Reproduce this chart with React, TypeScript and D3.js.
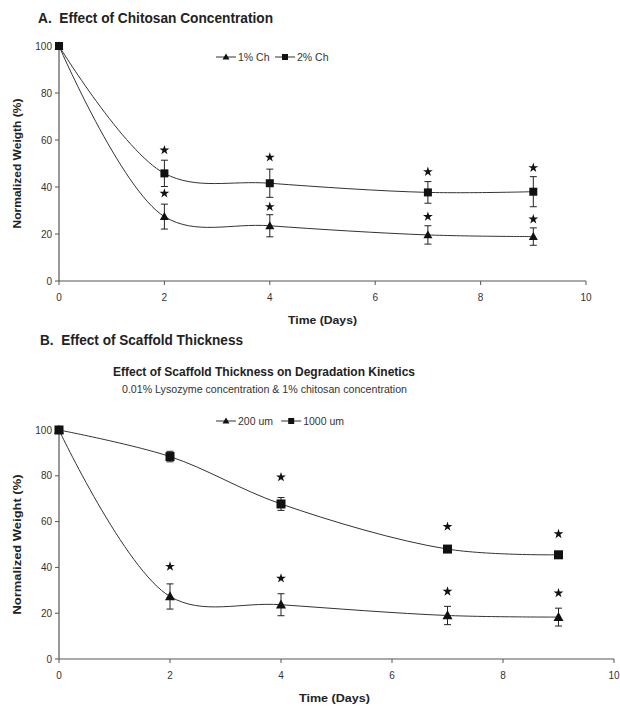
import React from "react";
import * as d3 from "d3";

// ---------- Data ----------
const days = [0, 2, 4, 7, 9];

// Panel A
const aCh1 = [100, 27.4, 23.5, 19.6, 18.9];
const aCh1Err = [0, 5.3, 4.7, 3.9, 3.7];
const aCh1Star = [null, 37.3, 31.6, 27.4, 26.3];
const aCh2 = [100, 45.8, 41.6, 37.7, 38.0];
const aCh2Err = [0, 5.6, 6.0, 4.6, 6.4];
const aCh2Star = [null, 55.7, 52.6, 46.5, 48.2];

// Panel B
const b200 = [100, 27.3, 23.7, 19.0, 18.3];
const b200Err = [0, 5.5, 4.8, 4.0, 3.9];
const b200Star = [null, 40.4, 35.2, 29.5, 28.8];
const b1000 = [100, 88.4, 67.7, 48.0, 45.5];
const b1000Err = [0, 2.3, 2.8, 1.5, 1.0];
const b1000Star = [null, null, 79.4, 57.8, 54.6];

const yTicks = [0, 20, 40, 60, 80, 100];
const xTicks = [0, 2, 4, 6, 8, 10];

const FONT = "'Liberation Sans', Arial, Helvetica, sans-serif";
const INK = "#333";
const AXIS = "#555";

type Series = {
  name: string;
  values: number[];
  err: number[];
  stars: (number | null)[];
  marker: "tri" | "sq";
};

function Marker({ kind, x, y, s }: { kind: "tri" | "sq"; x: number; y: number; s: number }) {
  if (kind === "sq") {
    return <rect x={x - s / 2} y={y - s / 2} width={s} height={s} fill="#111" />;
  }
  const h = s * 0.95;
  return (
    <path
      d={`M${x},${y - h * 0.6} L${x + s / 2 + 0.5},${y + h * 0.45} L${x - s / 2 - 0.5},${y + h * 0.45} Z`}
      fill="#111"
    />
  );
}

function Star({ x, y }: { x: number; y: number }) {
  const p = d3.symbol().type(d3.symbolStar).size(30)();
  return <path d={p || ""} transform={`translate(${x},${y})`} fill="#111" />;
}

function Panel({
  left,
  right,
  top,
  bottom,
  series,
  yLabel,
  yLabelLen,
  xLabelX,
  xLabelY,
  xLabelLen,
  legendX,
  legendY,
  msize,
}: {
  left: number;
  right: number;
  top: number;
  bottom: number;
  series: Series[];
  yLabel: string;
  yLabelLen: number;
  xLabelX: number;
  xLabelY: number;
  xLabelLen: number;
  legendX: number;
  legendY: number;
  msize: number;
}) {
  const x = d3.scaleLinear().domain([0, 10]).range([left, right]);
  const y = d3.scaleLinear().domain([0, 100]).range([bottom, top]);
  const line = d3
    .line<number>()
    .x((_, i) => x(days[i]))
    .y((d) => y(d))
    .curve(d3.curveCatmullRom.alpha(0.5));

  let lx = legendX;
  const legendItems: React.ReactNode[] = [];
  series.forEach((s, k) => {
    const x0 = lx;
    legendItems.push(
      <g key={k}>
        <line x1={x0} x2={x0 + 20} y1={legendY} y2={legendY} stroke={INK} strokeWidth={1} />
        <Marker kind={s.marker} x={x0 + 10} y={legendY} s={6} />
        <text x={x0 + 22} y={legendY + 3.5} fontSize={10.5} fill={INK} fontFamily={FONT}>
          {s.name}
        </text>
      </g>
    );
    lx += 22 + s.name.length * 6.2 + 6;
  });

  return (
    <g>
      {/* axes */}
      <line x1={left} x2={left} y1={y(100)} y2={bottom} stroke={AXIS} strokeWidth={1.2} />
      <line x1={left} x2={right} y1={bottom} y2={bottom} stroke={AXIS} strokeWidth={1.2} />
      {yTicks.map((t) => (
        <g key={"y" + t}>
          <line x1={left - 4} x2={left} y1={y(t)} y2={y(t)} stroke={AXIS} />
          <text
            x={left - 7}
            y={y(t) + 3.5}
            textAnchor="end"
            fontSize={10}
            fill={INK}
            fontFamily={FONT}
          >
            {t}
          </text>
        </g>
      ))}
      {xTicks.map((t) => (
        <g key={"x" + t}>
          <line x1={x(t)} x2={x(t)} y1={bottom} y2={bottom + 4} stroke={AXIS} />
          <text
            x={x(t)}
            y={bottom + 20}
            textAnchor="middle"
            fontSize={10}
            fill={INK}
            fontFamily={FONT}
          >
            {t}
          </text>
        </g>
      ))}
      <text
        x={xLabelX}
        y={xLabelY}
        textAnchor="middle"
        fontSize={11.5}
        fontWeight="bold"
        fill="#222"
        fontFamily={FONT}
        textLength={xLabelLen}
        lengthAdjust="spacingAndGlyphs"
      >
        Time (Days)
      </text>
      <text
        transform={`translate(${left - 38},${(y(100) + bottom) / 2}) rotate(-90)`}
        textAnchor="middle"
        fontSize={11}
        fontWeight="bold"
        fill="#222"
        fontFamily={FONT}
        textLength={yLabelLen}
        lengthAdjust="spacingAndGlyphs"
      >
        {yLabel}
      </text>

      {/* series */}
      {series.map((s, k) => (
        <g key={"s" + k}>
          <path d={line(s.values) || ""} fill="none" stroke={INK} strokeWidth={1} />
          {s.values.map((v, i) =>
            s.err[i] > 0 ? (
              <g key={"e" + i} stroke="#222" strokeWidth={1}>
                <line x1={x(days[i])} x2={x(days[i])} y1={y(v + s.err[i])} y2={y(v - s.err[i])} />
                <line x1={x(days[i]) - 3.5} x2={x(days[i]) + 3.5} y1={y(v + s.err[i])} y2={y(v + s.err[i])} />
                <line x1={x(days[i]) - 3.5} x2={x(days[i]) + 3.5} y1={y(v - s.err[i])} y2={y(v - s.err[i])} />
              </g>
            ) : null
          )}
          {s.values.map((v, i) => (
            <Marker key={"m" + i} kind={s.marker} x={x(days[i])} y={y(v)} s={msize} />
          ))}
          {s.stars.map((v, i) =>
            v == null ? null : <Star key={"st" + i} x={x(days[i])} y={y(v)} />
          )}
        </g>
      ))}
      {legendItems}
    </g>
  );
}

export default function App() {
  const seriesA: Series[] = [
    { name: "1% Ch", values: aCh1, err: aCh1Err, stars: aCh1Star, marker: "tri" },
    { name: "2% Ch", values: aCh2, err: aCh2Err, stars: aCh2Star, marker: "sq" },
  ];
  const seriesB: Series[] = [
    { name: "200 um", values: b200, err: b200Err, stars: b200Star, marker: "tri" },
    { name: "1000 um", values: b1000, err: b1000Err, stars: b1000Star, marker: "sq" },
  ];
  return (
    <svg
      width={620}
      height={707}
      style={{ position: "absolute", left: 0, top: 0, background: "#fff" }}
    >
      <rect width={620} height={707} fill="#fff" />
      <text
        x={38}
        y={23}
        fontSize={14.5}
        fontWeight="bold"
        fill="#222"
        fontFamily={FONT}
        textLength={235}
        lengthAdjust="spacingAndGlyphs"
        style={{ whiteSpace: "pre" }}
      >
        {"A.  Effect of Chitosan Concentration"}
      </text>
      <Panel
        left={59}
        right={586}
        top={46}
        bottom={281}
        series={seriesA}
        yLabel="Normalized Weigth (%)"
        yLabelLen={130}
        xLabelX={322.5}
        xLabelY={324}
        xLabelLen={69}
        legendX={216}
        legendY={57}
        msize={8}
      />
      <text
        x={40}
        y={345}
        fontSize={14.5}
        fontWeight="bold"
        fill="#222"
        fontFamily={FONT}
        textLength={203}
        lengthAdjust="spacingAndGlyphs"
        style={{ whiteSpace: "pre" }}
      >
        {"B.  Effect of Scaffold Thickness"}
      </text>
      <text
        x={264}
        y={375.5}
        textAnchor="middle"
        fontSize={12}
        fontWeight="bold"
        fill="#222"
        fontFamily={FONT}
        textLength={302}
        lengthAdjust="spacingAndGlyphs"
      >
        Effect of Scaffold Thickness on Degradation Kinetics
      </text>
      <text
        x={264.5}
        y={392.5}
        textAnchor="middle"
        fontSize={10.5}
        fill={INK}
        fontFamily={FONT}
        textLength={285}
        lengthAdjust="spacingAndGlyphs"
      >
        0.01% Lysozyme concentration &amp; 1% chitosan concentration
      </text>
      <Panel
        left={59}
        right={614}
        top={430}
        bottom={659}
        series={seriesB}
        yLabel="Normalized Weight (%)"
        yLabelLen={140}
        xLabelX={334.5}
        xLabelY={702}
        xLabelLen={71}
        legendX={216}
        legendY={421}
        msize={9}
      />
    </svg>
  );
}
